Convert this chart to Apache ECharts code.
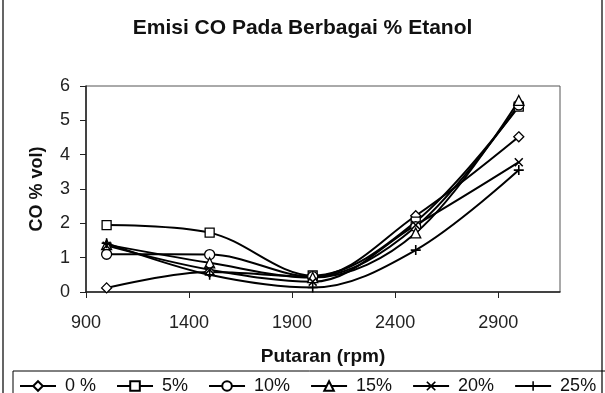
<!DOCTYPE html>
<html>
<head>
<meta charset="UTF-8">
<title>Emisi CO</title>
<script src="https://cdn.jsdelivr.net/npm/echarts@6/dist/echarts.min.js"></script>
<style>
  html, body { margin: 0; padding: 0; background: #fff; }
  #chart { width: 605px; height: 393px; }
</style>
</head>
<body>
<div id="chart"></div>
<script>
    // putaran mesin (rpm)
    var rpm = [1000, 1500, 2000, 2500, 3000];
    var seriesNames = ["0 %", "5%", "10%", "15%", "20%", "25%"];
    // CO (% vol) tiap kadar etanol
    var co0 = [0.12, 0.58, 0.45, 2.22, 4.52];
    var co5 = [1.95, 1.73, 0.48, 2.05, 5.40];
    var co10 = [1.10, 1.09, 0.45, 1.90, 5.45];
    var co15 = [1.38, 0.85, 0.42, 1.72, 5.58];
    var co20 = [1.35, 0.65, 0.30, 1.95, 3.78];
    var co25 = [1.42, 0.50, 0.13, 1.22, 3.55];
    var xTicks = [900, 1400, 1900, 2400, 2900];
    var yTicks = [0, 1, 2, 3, 4, 5, 6];

    var font = "'Liberation Sans', Arial, sans-serif";
    var crossPath = "path://M0,1.2L1.2,0L5,3.8L8.8,0L10,1.2L6.2,5L10,8.8L8.8,10L5,6.2L1.2,10L0,8.8L3.8,5Z";
    var plusPath = "path://M4.2,0H5.8V4.2H10V5.8H5.8V10H4.2V5.8H0V4.2H4.2Z";

    var symbols = ["diamond", "rect", "circle", "triangle", crossPath, plusPath];
    var sizes = [10, 9, 10, 10, 9, 10];
    var allData = [co0, co5, co10, co15, co20, co25];

    function pairs(vals) {
        var out = [];
        for (var i = 0; i < rpm.length; i++) {
            out.push([rpm[i], vals[i]]);
        }
        return out;
    }

    var series = [];
    for (var i = 0; i < allData.length; i++) {
        var solid = i >= 4;
        series.push({
            name: seriesNames[i],
            type: "line",
            smooth: 0.35,
            data: pairs(allData[i]),
            symbol: symbols[i],
            symbolSize: sizes[i],
            showAllSymbol: true,
            lineStyle: { color: "#000", width: 2 },
            itemStyle: {
                color: solid ? "#000" : "#fff",
                borderColor: "#000",
                borderWidth: solid ? 0 : 1.3
            },
            emphasis: { disabled: true },
            animation: false
        });
    }

    var chart = echarts.init(document.getElementById("chart"));
    chart.setOption({
        backgroundColor: "#fff",
        animation: false,
        title: {
            text: "Emisi CO Pada Berbagai % Etanol",
            left: "center",
            top: 18,
            padding: 0,
            textStyle: { fontFamily: font, fontSize: 21, fontWeight: "bold", color: "#111" }
        },
        graphic: [{
            type: "rect",
            shape: { x: 3, y: -3, width: 599, height: 402 },
            style: { fill: "none", stroke: "#333", lineWidth: 1.5 },
            silent: true
        }],
        legend: {
            data: seriesNames,
            left: 13,
            top: 371,
            width: 640,
            orient: "horizontal",
            padding: [6, 30, 6, 6],
            borderColor: "#000",
            borderWidth: 1,
            itemWidth: 36,
            itemHeight: 12,
            itemGap: 20,
            selectedMode: false,
            textStyle: { fontFamily: font, fontSize: 18, color: "#111", padding: [0, 0, 0, 4] }
        },
        grid: {
            left: 86,
            right: 45,
            top: 86,
            bottom: 101,
            show: true,
            borderColor: "#555",
            borderWidth: 1
        },
        xAxis: {
            type: "value",
            min: 900,
            max: 3200,
            interval: 500,
            name: "Putaran (rpm)",
            nameLocation: "middle",
            nameGap: 55,
            nameTextStyle: { fontFamily: font, fontSize: 19, fontWeight: "bold", color: "#111" },
            axisLine: { show: true, lineStyle: { color: "#222", width: 1.5 } },
            axisTick: { show: true, inside: false, length: 6, lineStyle: { color: "#222" } },
            axisLabel: {
                showMaxLabel: false,
                margin: 22,
                fontFamily: font,
                fontSize: 18,
                color: "#222",
                formatter: function (v) { return xTicks.indexOf(v) >= 0 ? String(v) : ""; }
            },
            splitLine: { show: false }
        },
        yAxis: {
            type: "value",
            min: yTicks[0],
            max: yTicks[yTicks.length - 1],
            interval: 1,
            name: "CO % vol)",
            nameLocation: "middle",
            nameRotate: 90,
            nameGap: 40,
            nameTextStyle: { fontFamily: font, fontSize: 18, fontWeight: "bold", color: "#111" },
            axisLine: { show: true, lineStyle: { color: "#222", width: 1.5 } },
            axisTick: { show: true, inside: false, length: 6, lineStyle: { color: "#222" } },
            axisLabel: { margin: 16, fontFamily: font, fontSize: 18, color: "#222" },
            splitLine: { show: false }
        },
        series: series
    });
</script>
</body>
</html>
